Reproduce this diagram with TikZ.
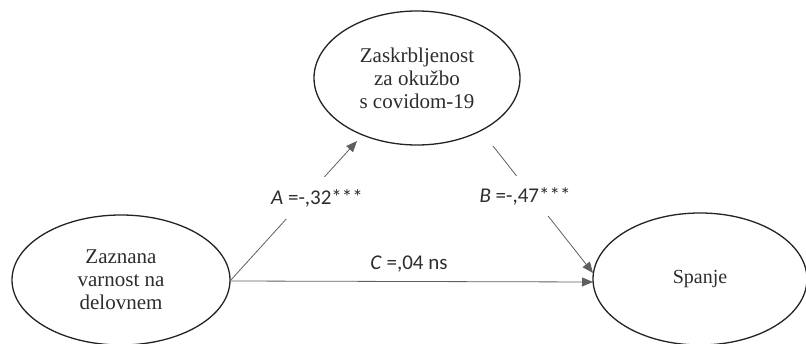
\documentclass[tikz,border=0pt]{standalone}
\usepackage{fontspec}
\setmainfont{Liberation Serif}
\newfontfamily\lblfont{Carlito}
\usetikzlibrary{arrows.meta,shapes.geometric}
\definecolor{edgecol}{RGB}{35,35,35}
\definecolor{linecol}{RGB}{95,95,95}
\definecolor{txtcol}{RGB}{45,45,45}
\tikzset{
  var/.style={ellipse, draw=edgecol, line width=1.3pt, minimum width=#1, text=txtcol,
    font=\fontsize{21}{23}\selectfont, align=center, inner sep=0pt},
  conn/.style={draw=linecol, line width=0.8pt, -{Triangle[length=11pt,width=9pt]}},
  lbl/.style={fill=white, text=txtcol, font=\lblfont\fontsize{21}{22}\selectfont, inner sep=0pt}
}
\begin{document}
\begin{tikzpicture}[x=1pt,y=-1pt]
\useasboundingbox (0,0) rectangle (806,344);
\node[var=206pt, minimum height=134pt] (M) at (417,78) {Zaskrbljenost\\za okužbo\\s covidom-19};
\node[var=218pt, minimum height=130pt] (X) at (121,280) {Zaznana\\varnost na\\delovnem};
\node[var=214pt, minimum height=132pt, font=\fontsize{20}{23}\selectfont] (Y) at (700,279) {Spanje};
\coordinate (xs) at (230,281);
\coordinate (atip) at (357,141);
\coordinate (bstart) at (493,146);
\coordinate (bend) at (593,273);
\coordinate (cend) at (593,282);
\draw[conn] (xs) -- (atip);
\draw[conn] (bstart) -- (bend);
\draw[conn] (xs) -- (cend);
\node[lbl, minimum height=42pt, minimum width=100pt] (la) at (317,198) {\textit{A} =-,32***};
\node[lbl, minimum height=40pt, minimum width=100pt] (lb) at (525,196) {\textit{B} =-,47***};
\node[lbl] (lc) at (409,264) {\textit{C} =,04 ns};
\end{tikzpicture}
\end{document}
